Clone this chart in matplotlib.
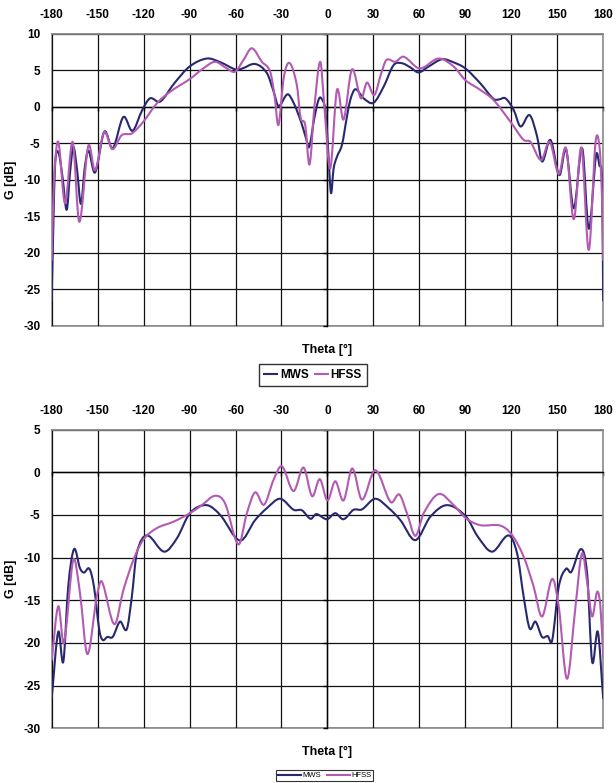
import numpy as np
import matplotlib.pyplot as plt
import matplotlib.transforms as mtransforms
from matplotlib.path import Path
from matplotlib.patches import PathPatch
from matplotlib.lines import Line2D

plt.rcParams['font.family'] = ['Liberation Sans', 'DejaVu Sans']
plt.rcParams['axes.unicode_minus'] = False

# ---------------------------------------------------------
# Gain patterns, G [dB] vs Theta [deg]
# ---------------------------------------------------------
top_mws_theta = [-180, -179, -177.8, -175.7, -173, -170.2, -168, -165.9, -163.5, -160.9,
                 -158.5, -156.1, -151.7, -145.6, -140.2, -133.2, -127.3, -121, -115.8, -109.2,
                 -100, -90, -78.7, -70, -60, -56, -47.2, -39.5, -35, -32,
                 -26.1, -22, -17, -14, -11.9, -8.5, -5.4, -3, -1.4, 0.5,
                 2.3, 4, 6.2, 9.5, 12.7, 15, 18.2, 23.6, 30.1, 36.7,
                 43.2, 48.7, 54, 59.5, 66, 74.8, 82, 90, 99.8, 108.5,
                 112, 116.2, 121.6, 126, 132, 136.9, 140.1, 145.6, 151.4, 155.8,
                 160.8, 166.3, 170.6, 175.4, 177.5, 179.3, 180]
top_mws_gain = [-26.5, -17, -8, -6.2, -9.5, -14.1, -9, -5.5, -8.5, -13.3,
                -8.5, -6.0, -9.0, -3.4, -5.7, -1.4, -3.3, -0.5, 1.15, 0.7,
                3.2, 5.5, 6.6, 6.1, 5.1, 5.2, 5.85, 4.6, 2.0, 0.1,
                1.7, 0.5, -2.2, -4.3, -5.5, -1.5, 1.15, 0.8, -0.45, -6,
                -11.8, -8.5, -6.85, -5.2, -1.4, 1.0, 2.4, 1.15, 0.55, 2.75,
                5.7, 5.95, 5.4, 4.7, 5.5, 6.5, 6.1, 5.25, 3.2, 1.05,
                1.0, 1.15, -0.45, -2.7, -1.15, -4.1, -7.5, -4.55, -9.35, -5.85,
                -13.9, -5.7, -16.7, -6.6, -8, -11, -26.5]

top_hfss_theta = [-180, -178.5, -175.7, -171.3, -166.3, -162, -156.1, -151.7, -145.8, -140.4,
                  -134.3, -127.7, -120.2, -111.4, -102.7, -89.8, -81, -73.3, -65.7, -60.2,
                  -54.8, -49.3, -42.8, -37.4, -34.5, -32, -28.5, -24.8, -20, -17.5,
                  -14.5, -11.7, -8.5, -4.7, -2, 1.8, 6.2, 10.5, 16, 21.9,
                  25.8, 30.6, 35, 38.5, 44.3, 49.7, 60.2, 72.6, 82.4, 90,
                  99.8, 108.5, 120.3, 128.1, 132.5, 139.5, 145.1, 151, 155.8, 160.8,
                  165.8, 170.6, 175, 177.6, 179.3, 180]
top_hfss_gain = [-21, -10, -4.8, -13.2, -4.8, -15.75, -5.35, -8.7, -3.5, -5.8,
                 -3.9, -3.65, -2.05, 0.45, 2.05, 3.8, 5.25, 6.15, 5.25, 4.8,
                 6.4, 8.0, 6.15, 4.8, 1.5, -2.5, 4.0, 6.0, 3.0, -1.5,
                 -2.5, -7.9, 0.0, 6.15, 0.0, -8.45, 2.3, -1.75, 5.1, 1.15,
                 3.3, 1.6, 4.5, 6.4, 6.15, 6.85, 5.25, 6.6, 5.5, 3.65,
                 2.3, 0.9, -2.3, -4.55, -4.8, -7.3, -4.8, -9.2, -5.7, -15.4,
                 -5.6, -19.6, -4.9, -5.5, -12.8, -21]

bot_mws_theta = [-180, -175.7, -172.4, -169.2, -165.4, -161.5, -158.9, -155.4, -152.4, -148.9,
                 -146.7, -143.7, -140.2, -135.4, -131, -127.7, -124.5, -117.9, -106.6, -98.3,
                 -89.8, -78.9, -70, -57, -47.2, -39.5, -30.8, -22, -16.7, -11,
                 -7.3, -0.3, 5.1, 10.5, 17, 22.5, 31.2, 40, 47.6, 57.4,
                 67.2, 78.1, 90.5, 98, 107.5, 118.3, 123.8, 128.1, 132, 135.8,
                 140.1, 143.8, 146.7, 151, 155.8, 159.1, 165.6, 169.5, 172.8, 176.5,
                 180]
bot_mws_gain = [-26.5, -18.7, -22.2, -13.4, -9.0, -11.25, -11.75, -11.3, -13.4, -18.5,
                -19.65, -19.3, -19.3, -17.5, -18.4, -14.6, -9.5, -7.4, -9.3, -7.75,
                -4.8, -3.85, -5.0, -8.0, -5.6, -4.2, -3.1, -4.4, -4.45, -5.45,
                -4.9, -5.5, -4.8, -5.5, -4.4, -4.35, -3.1, -4.2, -5.6, -7.95,
                -5.2, -3.85, -5.2, -7.5, -9.3, -7.4, -9.5, -14.6, -18.3, -17.5,
                -19.3, -19.2, -19.7, -13.4, -11.3, -11.7, -9.0, -11.85, -22.2, -18.7,
                -26.5]

bot_hfss_theta = [-180, -175.7, -172, -165.9, -161.5, -156.7, -150.6, -147.3, -139.1, -133.2,
                  -126.7, -120.2, -111.4, -100.6, -89.8, -82, -73.3, -66.8, -58.1, -52.6,
                  -47.2, -41.4, -35.2, -29.7, -22.1, -15.6, -10, -5, 0, 5.1,
                  10.5, 16.2, 22.5, 31.2, 41.3, 46.9, 51.9, 57.4, 62.8, 72.6,
                  82.4, 90.5, 99.8, 112.9, 120.5, 128.1, 134.6, 140.1, 146.7, 151,
                  156.4, 161.9, 166.2, 169.9, 172.8, 176.1, 178.2, 180]
bot_hfss_gain = [-22, -15.7, -20.0, -10.3, -14.2, -21.3, -14.6, -12.8, -17.8, -13.8,
                 -10.3, -7.9, -6.55, -5.8, -4.8, -3.85, -2.75, -3.65, -8.45, -4.8,
                 -2.35, -3.8, -0.9, 0.7, -2.2, 0.55, -2.8, -0.8, -3.3, -1.05,
                 -3.3, 0.45, -3.2, 0.25, -3.5, -2.6, -4.8, -7.45, -4.8, -2.55,
                 -3.85, -5.4, -6.2, -6.25, -7.35, -9.9, -13.4, -16.9, -12.5, -15.75,
                 -24.2, -15.75, -9.5, -13.4, -16.9, -14.0, -15.75, -21.6]

x_ticks = list(range(-180, 181, 30))
top_yticks = list(range(-30, 11, 5))
bot_yticks = list(range(-30, 6, 5))

MWS_COLOR = '#28286e'
HFSS_COLOR = '#b35ab3'


def smooth_path(xs, ys):
    # cubic Hermite through the points, written as Bezier segments
    x = np.asarray(xs, float)
    y = np.asarray(ys, float)
    n = len(x)
    m = np.zeros(n)
    m[1:-1] = (y[2:] - y[:-2]) / (x[2:] - x[:-2])
    m[0] = (y[1] - y[0]) / (x[1] - x[0])
    m[-1] = (y[-1] - y[-2]) / (x[-1] - x[-2])
    verts = [(x[0], y[0])]
    codes = [Path.MOVETO]
    for i in range(n - 1):
        dx = (x[i + 1] - x[i]) / 3.0
        verts += [(x[i] + dx, y[i] + m[i] * dx),
                  (x[i + 1] - dx, y[i + 1] - m[i + 1] * dx),
                  (x[i + 1], y[i + 1])]
        codes += [Path.CURVE4] * 3
    return Path(verts, codes)


def draw_panel(fig, ax, mws, hfss, yticks):
    ax.set_xlim(-180, 180)
    ax.set_ylim(yticks[0], yticks[-1])
    ax.set_xticks(x_ticks)
    ax.set_yticks(yticks)
    ax.grid(True, color='#111111', linewidth=0.9)
    ax.set_axisbelow(True)

    for (th, g), col in ((mws, MWS_COLOR), (hfss, HFSS_COLOR)):
        ax.add_patch(PathPatch(smooth_path(th, g), fill=False, edgecolor=col,
                               linewidth=1.5, capstyle='round', joinstyle='round',
                               zorder=3))

    # axes cross at zero, labels sit on the outer frame
    ax.spines['left'].set_position(('data', 0))
    ax.spines['bottom'].set_position(('data', 0))
    for s in ('left', 'bottom'):
        ax.spines[s].set_color('black')
        ax.spines[s].set_linewidth(1.0)
    for s in ('top', 'right'):
        ax.spines[s].set_color('#8c8c8c')
        ax.spines[s].set_linewidth(1.2)
    ax.tick_params(length=3, width=1, direction='out', color='black',
                   labelleft=False, labelbottom=False)

    sy = ax.secondary_yaxis('left')
    sy.set_yticks(yticks)
    sy.tick_params(length=0, pad=8, labelsize=8.5)
    sy.spines['left'].set_color('#8c8c8c')
    sy.spines['left'].set_linewidth(1.2)
    for lab in sy.get_yticklabels():
        lab.set_fontweight('bold')
    sy.set_ylabel('G [dB]', fontsize=9, fontweight='bold')
    sy.yaxis.set_label_coords(
        17 / 616, 0.5,
        transform=mtransforms.blended_transform_factory(fig.transFigure, ax.transAxes))

    sx = ax.secondary_xaxis('top')
    sx.set_xticks(x_ticks)
    sx.tick_params(length=0, pad=9, labelsize=8.5)
    sx.spines['top'].set_color('#8c8c8c')
    sx.spines['top'].set_linewidth(1.2)
    for lab in sx.get_xticklabels():
        lab.set_fontweight('bold')

    sb = ax.secondary_xaxis('bottom')
    sb.set_xticks([])
    sb.spines['bottom'].set_color('#8c8c8c')
    sb.spines['bottom'].set_linewidth(1.2)
    sb.set_xlabel('Theta [°]', fontsize=9, fontweight='bold', labelpad=13)


fig = plt.figure(figsize=(6.16, 7.83), dpi=100)
ax1 = fig.add_axes([0.0839, 0.5837, 0.8953, 0.3733])
ax2 = fig.add_axes([0.0839, 0.0699, 0.8953, 0.3814])

draw_panel(fig, ax1, (top_mws_theta, top_mws_gain), (top_hfss_theta, top_hfss_gain), top_yticks)
draw_panel(fig, ax2, (bot_mws_theta, bot_mws_gain), (bot_hfss_theta, bot_hfss_gain), bot_yticks)

handles = [Line2D([], [], color=MWS_COLOR, lw=1.5), Line2D([], [], color=HFSS_COLOR, lw=1.5)]

leg1 = fig.legend(handles, ['MWS', 'HFSS'], loc='center', bbox_to_anchor=(0.508, 0.521),
                  ncol=2, frameon=True, fancybox=False, edgecolor='black',
                  prop={'weight': 'bold', 'size': 8.5}, handlelength=1.1,
                  handletextpad=0.25, columnspacing=0.5, borderpad=0.4, borderaxespad=0)
leg1.get_frame().set_linewidth(1.0)

leg2 = fig.legend(handles, ['MWS', 'HFSS'], loc='center', bbox_to_anchor=(0.527, 0.0095),
                  ncol=2, frameon=True, fancybox=False, edgecolor='black',
                  prop={'size': 5.5}, handlelength=3.0, handletextpad=0.2,
                  columnspacing=0.8, borderpad=0.2, borderaxespad=0)
leg2.get_frame().set_linewidth(0.8)

fig.savefig('out.png', dpi=100)
